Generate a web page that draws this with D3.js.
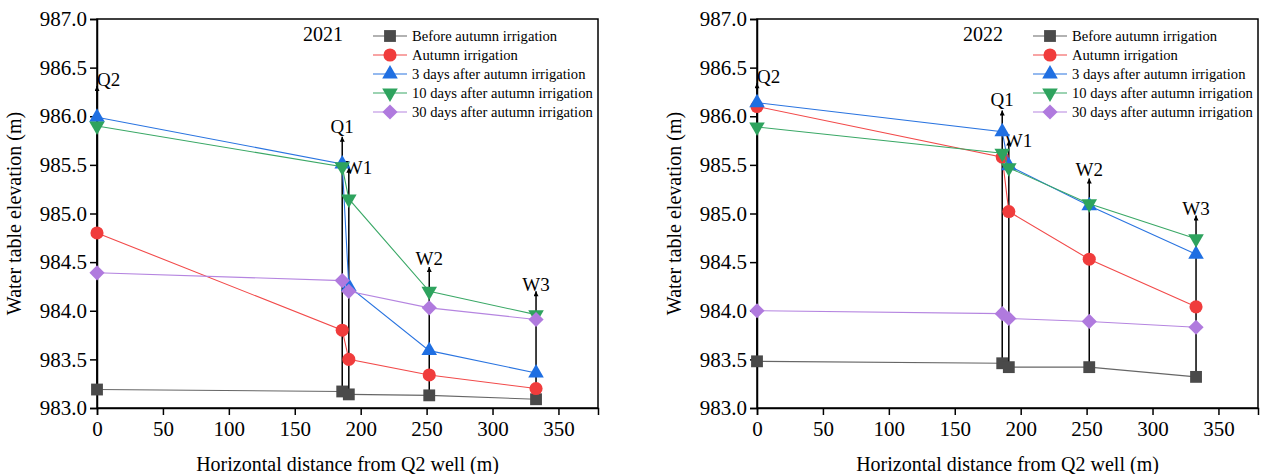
<!DOCTYPE html>
<html>
<head>
<meta charset="utf-8">
<script src="https://cdn.jsdelivr.net/npm/d3@7"></script>
<style>
  body { margin: 0; background: #fff; }
  text { font-family: "Liberation Serif", "Times New Roman", serif; fill: #000; }
</style>
</head>
<body>
<div id="chart"></div>
<script>
// data
const wells = ["Q2", "Q1", "W1", "W2", "W3"];
const distance = [0, 186, 191, 252, 333];
const seriesNames = [
    "Before autumn irrigation",
    "Autumn irrigation",
    "3 days after autumn irrigation",
    "10 days after autumn irrigation",
    "30 days after autumn irrigation"
];
const before2021 = [983.19, 983.17, 983.14, 983.13, 983.09];
const autumn2021 = [984.80, 983.80, 983.50, 983.34, 983.20];
const day3_2021 = [985.99, 985.51, 984.25, 983.59, 983.36];
const day10_2021 = [985.90, 985.48, 985.15, 984.20, 983.96];
const day30_2021 = [984.39, 984.31, 984.20, 984.03, 983.91];
const arrowTop2021 = [986.31, 985.79, 985.47, 984.45, 984.20];

const before2022 = [983.48, 983.46, 983.42, 983.42, 983.32];
const autumn2022 = [986.10, 985.58, 985.02, 984.53, 984.04];
const day3_2022 = [986.14, 985.84, 985.49, 985.08, 984.58];
const day10_2022 = [985.89, 985.62, 985.47, 985.10, 984.74];
const day30_2022 = [984.00, 983.97, 983.92, 983.89, 983.83];
const arrowTop2022 = [986.34, 986.06, 985.75, 985.36, 984.98];

const xTicks = [0, 50, 100, 150, 200, 250, 300, 350];
const yTicks = [983.0, 983.5, 984.0, 984.5, 985.0, 985.5, 986.0, 986.5, 987.0];

const colors = ["#4a4a4a", "#f03c3c", "#1f6fe2", "#2ea35e", "#b07ade"];
const lineColors = ["#666666", "#f24a4a", "#2a74e0", "#3aa866", "#b585e0"];

const squareSym = d3.symbol().type(d3.symbolSquare).size(140)();
const circleSym = d3.symbol().type(d3.symbolCircle).size(135)();
const triSym = d3.symbol().type(d3.symbolTriangle).size(105)();
const diamondSym = d3.symbol().type(d3.symbolSquare).size(115)();
const markers = [
    { path: squareSym, rot: 0 },
    { path: circleSym, rot: 0 },
    { path: triSym, rot: 0 },
    { path: triSym, rot: 180 },
    { path: diamondSym, rot: 45 }
];

const svg = d3.select("#chart").append("svg")
    .attr("width", 1266)
    .attr("height", 474);

svg.append("defs").append("marker")
    .attr("id", "arrow")
    .attr("viewBox", "0 0 10 10")
    .attr("refX", 5).attr("refY", 0)
    .attr("markerWidth", 5).attr("markerHeight", 8)
    .attr("markerUnits", "userSpaceOnUse")
    .attr("orient", "0")
    .append("path")
    .attr("d", "M0,10 L5,0 L10,10 Z")
    .attr("fill", "#000");

// label placement for each well relative to its arrow tip
const labelPos = [
    { anchor: "start", dx: 0, dy: 0 },
    { anchor: "middle", dx: 0, dy: -4 },
    { anchor: "start", dx: -4, dy: 6 },
    { anchor: "middle", dx: 0, dy: -2 },
    { anchor: "middle", dx: 0, dy: 0 }
];

function drawPanel(left, year, series, arrowTop) {
    const top = 19, bottom = 408, width = 501;
    const height = bottom - top;
    const g = svg.append("g").attr("transform", "translate(" + left + "," + top + ")");

    const x = d3.scaleLinear().domain([0, 380]).range([0, width]);
    const y = d3.scaleLinear().domain([983, 987]).range([height, 0]);

    // frame
    g.append("rect")
        .attr("width", width).attr("height", height)
        .attr("fill", "none").attr("stroke", "#000").attr("stroke-width", 1.5);

    const xAxis = g.append("g")
        .attr("transform", "translate(0," + height + ")")
        .call(d3.axisBottom(x).tickValues(xTicks).tickSize(7).tickPadding(6));
    const yAxis = g.append("g")
        .call(d3.axisLeft(y).tickValues(yTicks).tickFormat(d3.format(".1f")).tickSize(7).tickPadding(3));
    [xAxis, yAxis].forEach(a => {
        a.select(".domain").attr("stroke-width", 1.5);
        a.selectAll(".tick line").attr("stroke-width", 1.5);
        a.selectAll(".tick text")
            .style("font-family", "'Liberation Serif', serif")
            .style("font-size", "21px")
            .attr("fill", "#000");
    });

    // well arrows
    wells.forEach((w, i) => {
        const xp = x(distance[i]);
        g.append("line")
            .attr("x1", xp).attr("x2", xp)
            .attr("y1", y(series[0][i])).attr("y2", y(arrowTop[i]))
            .attr("stroke", "#000").attr("stroke-width", 1.5)
            .attr("marker-end", "url(#arrow)");
        g.append("text")
            .attr("x", xp + labelPos[i].dx)
            .attr("y", y(arrowTop[i]) + labelPos[i].dy)
            .attr("text-anchor", labelPos[i].anchor)
            .style("font-size", "19px")
            .text(w);
    });

    const line = d3.line()
        .x((d, i) => x(distance[i]))
        .y(d => y(d));

    series.forEach((vals, s) => {
        g.append("path")
            .datum(vals)
            .attr("d", line)
            .attr("fill", "none")
            .attr("stroke", lineColors[s])
            .attr("stroke-width", 1.1);
        g.selectAll(".m" + s)
            .data(vals)
            .enter()
            .append("path")
            .attr("class", "m" + s)
            .attr("d", markers[s].path)
            .attr("transform", (d, i) => "translate(" + x(distance[i]) + "," + y(d) + ") rotate(" + markers[s].rot + ")")
            .attr("fill", colors[s]);
    });

    // year
    g.append("text")
        .attr("x", 226).attr("y", 22)
        .attr("text-anchor", "middle")
        .style("font-size", "20px")
        .text(year);

    // legend
    const lg = g.append("g").attr("transform", "translate(" + (width - 225) + ",17)");
    seriesNames.forEach((name, s) => {
        const row = lg.append("g").attr("transform", "translate(0," + (s * 19) + ")");
        row.append("line")
            .attr("x1", 0).attr("x2", 34)
            .attr("stroke", lineColors[s]).attr("stroke-width", 1.1);
        row.append("path")
            .attr("d", markers[s].path)
            .attr("transform", "translate(17,0) rotate(" + markers[s].rot + ")")
            .attr("fill", colors[s]);
        row.append("text")
            .attr("x", 39).attr("y", 5)
            .style("font-size", "14.6px")
            .text(name);
    });

    // axis titles
    g.append("text")
        .attr("transform", "rotate(-90)")
        .attr("x", -height / 2).attr("y", -76)
        .attr("text-anchor", "middle")
        .style("font-size", "20px")
        .text("Water table elevation (m)");
    g.append("text")
        .attr("x", width / 2).attr("y", height + 63)
        .attr("text-anchor", "middle")
        .style("font-size", "20px")
        .text("Horizontal distance from Q2 well (m)");
}

drawPanel(97, "2021", [before2021, autumn2021, day3_2021, day10_2021, day30_2021], arrowTop2021);
drawPanel(757, "2022", [before2022, autumn2022, day3_2022, day10_2022, day30_2022], arrowTop2022);
</script>
</body>
</html>
